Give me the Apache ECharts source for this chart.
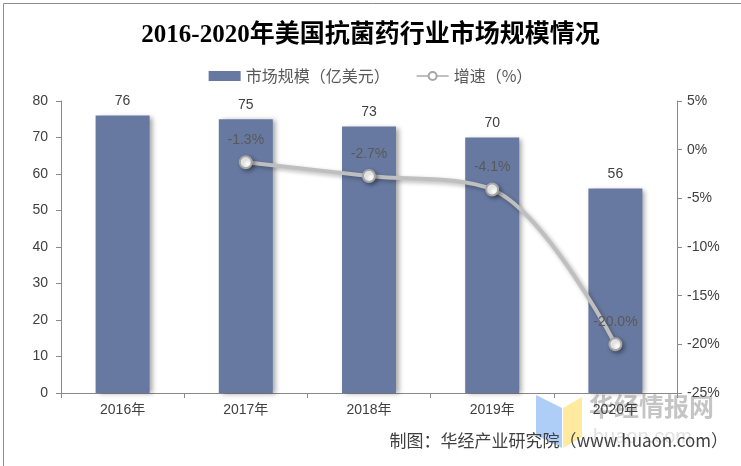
<!DOCTYPE html>
<html><head><meta charset="utf-8">
<script src="https://cdn.jsdelivr.net/npm/echarts@6/dist/echarts.min.js"></script>
<style>html,body{margin:0;padding:0;background:#fff}#c{width:741px;height:466px}</style>
</head><body><div id="c"></div>
<script>
const categories = ['2016年','2017年','2018年','2019年','2020年'];
const marketSize = [76, 75, 73, 70, 56];
const growth = [null, -1.3, -2.7, -4.1, -20.0];
const leftTicks = [0, 80, 10];
const rightTicks = [-25, 5, 5];

const chart = echarts.init(document.getElementById('c'), null, {renderer:'canvas'});
const txt = '#404040';
const af = 'Arial, "Liberation Sans", "Noto Sans CJK SC", sans-serif';
chart.setOption({
  backgroundColor:'#fff',
  animation:false,
  title:{
    text:'2016-2020年美国抗菌药行业市场规模情况',
    left:'center', top:18,
    textStyle:{fontFamily:'"Liberation Serif", "Noto Sans CJK SC", serif', fontWeight:'bold', fontSize:25, color:'#000'}
  },
  legend:{
    top:63, left:'center', itemGap:26, itemWidth:32, itemHeight:10,
    textStyle:{fontFamily:'"Noto Sans CJK SC", sans-serif', fontSize:16, color:'#595959'},
    data:[{name:'市场规模（亿美元）', icon:'rect'},{name:'增速（%）'}]
  },
  grid:{left:61, right:64, top:101, bottom:73},
  xAxis:{
    type:'category', data:categories,
    axisLine:{lineStyle:{color:'#898989'}},
    axisTick:{show:true, alignWithLabel:false, length:5, lineStyle:{color:'#898989'}},
    axisLabel:{color:txt, fontSize:14, fontFamily:af, margin:10}
  },
  yAxis:[
    {type:'value', min:leftTicks[0], max:leftTicks[1], interval:leftTicks[2],
     splitLine:{show:false},
     axisLine:{show:true, lineStyle:{color:'#898989'}},
     axisTick:{show:true, length:5, lineStyle:{color:'#898989'}},
     axisLabel:{color:txt, fontSize:14, fontFamily:af, margin:13}},
    {type:'value', min:rightTicks[0], max:rightTicks[1], interval:rightTicks[2],
     splitLine:{show:false},
     axisLine:{show:true, lineStyle:{color:'#898989'}},
     axisTick:{show:true, length:5, lineStyle:{color:'#898989'}},
     axisLabel:{color:txt, fontSize:14, fontFamily:af, margin:10, formatter:'{value}%'}}
  ],
  series:[
    {name:'市场规模（亿美元）', type:'bar', data:marketSize, barWidth:54,
     itemStyle:{color:'#6779a1', shadowColor:'rgba(0,0,0,0.35)', shadowBlur:5, shadowOffsetX:3, shadowOffsetY:1},
     label:{show:true, position:'top', distance:7, color:txt, fontSize:14, fontFamily:af}},
    {name:'增速（%）', type:'line', yAxisIndex:1, data:growth, smooth:0.35, connectNulls:false,
     symbol:'circle', symbolSize:12,
     lineStyle:{color:'#bfbfbf', width:4, shadowColor:'rgba(0,0,0,0.3)', shadowBlur:4, shadowOffsetX:2, shadowOffsetY:2},
     itemStyle:{color:'#fff', borderColor:'#a6a6a6', borderWidth:2, shadowColor:'rgba(0,0,0,0.35)', shadowBlur:4, shadowOffsetX:2, shadowOffsetY:2},
     label:{show:true, position:'top', distance:8, color:'#595959', fontSize:14, fontFamily:af, formatter:p=>p.value.toFixed(1)+'%'}}
  ],
  graphic:[
    {type:'rect', left:1, top:1, shape:{width:738, height:463}, style:{fill:'none', stroke:'#8c8c8c', lineWidth:1}, silent:true, z:-1},
    {type:'polygon', shape:{points:[[536,395],[562,408],[562,448],[536,435]]}, style:{fill:'rgba(140,185,245,0.7)'}, z:0},
    {type:'polygon', shape:{points:[[563,408],[582,397],[582,437],[563,448]]}, style:{fill:'rgba(255,225,120,0.7)'}, z:0},
    {type:'text', left:589, top:394, style:{text:'华经情报网', font:'bold 25px "Noto Sans CJK SC"', fill:'rgba(150,150,150,0.55)'}, z:0},
    {type:'text', left:593, top:427, style:{text:'huaon.com', font:'20px Arial', fill:'rgba(170,170,170,0.35)'}, z:0},
    {type:'text', right:13, top:432, style:{text:'制图：华经产业研究院（www.huaon.com）', font:'17px "Noto Sans CJK SC", sans-serif', fill:'#404040'}, z:10}
  ]
});
</script></body></html>
